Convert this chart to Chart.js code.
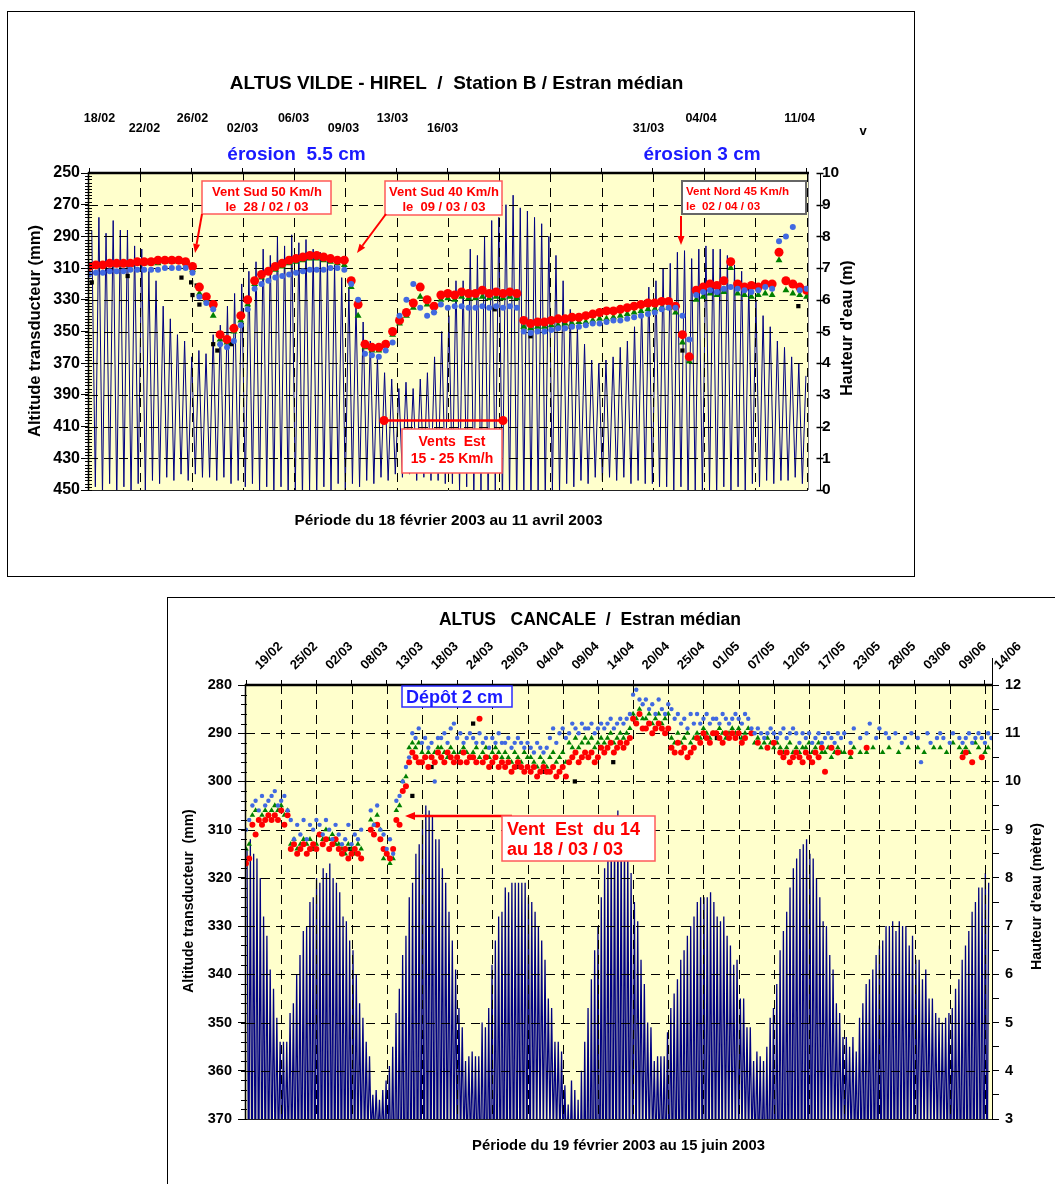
<!DOCTYPE html>
<html>
<head>
<meta charset="utf-8">
<title>ALTUS – Vildé-Hirel et Cancale</title>
<script src="https://cdn.jsdelivr.net/npm/chart.js@4.4.1/dist/chart.umd.min.js"></script>
<style>
  html, body { margin: 0; padding: 0; background: #fff; }
  body { width: 1055px; height: 1184px; position: relative; overflow: hidden; }
  .frame { position: absolute; border: 1px solid #000; box-sizing: border-box; }
  canvas { position: absolute; left: 0; top: 0; }
</style>
</head>
<body>
<div class="frame" style="left:7px;top:11px;width:908px;height:566px"></div>
<div class="frame" style="left:167px;top:597px;width:920px;height:620px"></div>
<canvas id="vilde" width="1055" height="1184"></canvas>
<canvas id="cancale" width="1055" height="1184"></canvas>
<script>
// ---------------------------------------------------------------------------
// Station B, Vildé-Hirel : 18/02/2003 -> 11/04/2003 (x in days from 18/02)
// ---------------------------------------------------------------------------
const vildeDateLabels = ['18/02','22/02','26/02','02/03','06/03','09/03','13/03','16/03','31/03','04/04','11/04'];
const vildeDateDays   = [0.76, 4.02, 7.50, 11.12, 14.82, 18.44, 21.99, 25.62, 40.54, 44.35, 51.49];
const vildeDateRow    = [0, 1, 0, 1, 0, 1, 0, 1, 1, 0, 0];

// successive high waters (m)
const vildeTideHigh = [
  8.2,8.6,8.1,8.5,8.2,8.2,7.7,7.6,6.9,6.6,
  5.8,5.4,4.9,4.7,4.2,4.4,4.3,4.9,5.2,5.8,
  6.2,6.5,6.9,7.2,7.6,7.4,8.0,7.7,8.05,7.8,
  7.9,7.6,7.5,7.3,7.1,6.7,6.4,5.9,5.3,4.7,
  4.2,3.7,3.5,3.2,3.4,3.2,3.5,3.7,4.2,5.0,
  5.5,6.6,6.6,7.6,7.4,8.0,8.5,8.6,9.0,9.3,
  8.9,8.8,8.6,8.4,8.0,7.4,6.6,5.7,5.2,4.6,
  4.1,4.0,4.1,4.2,4.5,4.7,5.15,5.9,6.4,6.6,
  7.0,7.15,7.5,7.55,7.3,7.6,7.7,7.6,7.6,7.4,
  7.1,6.9,6.5,6.0,5.5,5.15,4.7,4.5,4.2,4.0,
  3.6
];
// low waters following each high water (m)
const vildeTideLow = [
  0.1,-0.2,0.2,-0.3,0.1,-0.2,0.2,0.0,0.3,0.2,
  0.4,0.3,0.5,0.3,0.5,0.4,0.4,0.3,0.4,0.2,
  0.3,0.1,0.2,0.0,0.1,-0.1,0.1,-0.2,0.0,-0.3,
  0.0,-0.2,0.1,-0.1,0.2,0.0,0.2,0.1,0.3,0.2,
  0.4,0.3,0.5,0.4,0.5,0.3,0.4,0.3,0.3,0.2,
  0.2,0.0,0.1,-0.2,0.0,-0.3,-0.1,-0.4,-0.2,-0.5,
  -0.2,-0.4,-0.1,-0.3,0.0,-0.1,0.2,0.1,0.3,0.2,
  0.4,0.3,0.4,0.3,0.4,0.2,0.3,0.2,0.2,0.1,
  0.1,0.0,0.1,-0.2,0.0,-0.1,0.0,-0.2,0.1,0.0,
  0.1,0.0,0.2,0.1,0.3,0.2,0.3,0.3,0.4,0.2
];

// transducer altitude (mm), one reading every half day from 18/02
const vildeRed = [
  309,308,308,307,307,307,307,306,306,306,
  305,305,305,305,306,309,322,328,333,352,
  355,348,340,330,318,314,312,309,307,305,
  304,303,302,302,303,304,305,305,318,333,
  358,360,360,358,350,343,338,332,322,330,
  334,327,326,327,325,326,326,324,326,325,
  326,325,326,343,345,344,344,343,342,342,
  341,341,340,339,338,337,337,336,335,334,
  333,332,332,331,331,334,352,366,324,322,
  320,321,318,306,320,322,321,322,320,320,
  300,318,320,322,324
];
const vildeGreen = [
  310,309,309,308,308,308,308,307,307,307,
  307,306,306,306,307,311,326,330,340,355,
  357,350,343,333,320,316,313,311,309,307,
  306,305,304,304,305,306,307,308,322,340,
  360,362,362,359,352,345,340,335,328,333,
  337,330,329,330,328,329,329,328,329,328,
  329,328,329,347,348,347,347,346,346,345,
  345,344,344,343,342,342,341,340,339,338,
  337,336,336,335,335,338,357,369,330,328,
  326,327,325,310,326,327,328,327,326,327,
  305,324,326,327,328
];
const vildeBlue = [
  314,313,313,312,312,312,311,311,311,311,
  311,310,310,310,310,313,328,332,336,358,
  360,356,346,336,323,320,318,316,315,314,
  313,312,311,311,311,310,310,311,320,330,
  364,365,366,362,357,340,330,320,335,340,
  338,333,335,334,334,335,335,334,335,334,
  335,334,335,350,351,350,350,349,348,348,
  347,347,346,345,345,344,343,343,342,341,
  340,339,338,336,335,335,340,355,327,325,
  324,325,323,322,323,324,325,324,322,323,
  293,290,284,324,323
];
const vildeBlackDays = [0.2, 2.8, 3.5, 6.7, 7.4, 7.5, 7.8, 8.0, 9.0, 9.3, 10.3, 29.4, 32.0, 34.9, 43.0, 51.4];
const vildeBlackVals = [319, 315, 311, 316, 319, 327, 321, 333, 358, 362, 358, 336, 353, 347, 362, 334];

// ---------------------------------------------------------------------------
// Cancale : 19/02/2003 -> 15/06/2003 (x in days from 19/02)
// ---------------------------------------------------------------------------
const cancaleDateLabels = ['19/02','25/02','02/03','08/03','13/03','18/03','24/03','29/03','04/04','09/04','14/04',
                           '20/04','25/04','01/05','07/05','12/05','17/05','23/05','28/05','03/06','09/06','14/06'];

const cancaleTideHigh = [
  8.6,8.8,8.5,8.4,
  8.0,7.2,6.8,6.1,5.7,5.1,4.6,4.6,4.6,5.2,
  5.4,6.0,6.4,6.9,7.0,7.5,7.6,8.0,7.9,8.2,
  8.1,8.3,8.0,7.9,7.7,7.2,7.1,6.7,6.5,6.0,
  5.4,5.1,4.6,4.3,3.5,3.6,3.4,3.6,3.8,4.1,4.5,
  5.2,5.7,6.4,6.8,7.6,7.9,8.5,8.7,9.2,9.5,
  9.4,9.3,8.8,8.8,8.2,7.9,7.3,6.7,6.1,5.3,
  4.9,4.2,4.3,4.4,4.3,4.3,5.0,4.9,5.3,6.2,6.7,
  7.2,7.3,7.8,7.7,7.9,7.9,7.9,7.9,7.9,7.6,
  7.5,7.3,7.0,6.7,6.3,5.5,5.3,4.6,4.6,4.4,
  3.7,3.3,3.8,3.6,3.4,4.0,4.6,5.3,5.9,6.5,
  7.0,7.6,8.2,8.6,8.9,9.1,9.4,9.1,8.9,8.6,
  8.1,7.5,7.1,6.3,5.8,5.0,4.9,4.2,4.3,4.3,
  4.3,4.8,5.3,5.6,5.9,6.3,6.5,6.8,7.0,7.2,
  7.5,7.6,7.6,7.6,7.7,7.5,7.2,7.1,7.2,6.8,
  6.6,6.2,6.3,5.5,5.5,4.9,4.9,4.2,4.4,4.3,4.2,
  4.5,5.1,5.3,5.8,6.5,6.9,7.3,7.8,8.2,8.4,
  8.6,8.7,8.8,8.5,8.4,8.0,7.6,7.1,7.0,6.4,
  6.1,5.4,5.2,4.7,4.7,4.5,4.7,4.4,5.1,5.4,
  5.8,5.9,6.1,6.4,6.6,6.7,7.0,7.0,7.1,6.9,
  7.1,7.0,7.0,6.6,6.8,6.3,6.3,5.9,6.1,5.5,
  5.5,5.2,5.1,5.0,5.1,5.2,5.3,5.7,5.9,6.3,6.6,
  6.9,7.3,7.5,7.8,7.8,8.1,7.9
];
const cancaleTideLow = [
  0.8,0.7,0.9,1.0,1.2,1.5,1.7,1.9,2.1,2.2,2.3,
  2.3,2.2,2.0,1.8,1.6,1.4,1.3,1.1,1.0,0.9,0.9,0.8,0.9,0.8,
  0.9,0.9,1.0,1.1,1.3,1.5,1.7,1.9,2.1,2.3,2.4,2.5,2.6,2.6,2.6,
  2.5,2.3,2.0,1.7,1.4,1.1,0.9,0.7,0.5,0.4,0.3,0.3,0.2,0.2,
  0.3,0.4,0.6,0.8,1.1,1.4,1.7,2.0,2.2,2.3,2.4,2.4,2.3,2.3,
  2.2,2.0,1.8,1.5,1.3,1.1,1.0,0.9,0.9,0.8,0.9,
  0.9,1.0,1.0,1.2,1.4,1.6,1.8,2.1,2.3,2.5,2.6,2.7,2.7,2.6,2.6,2.5,2.4,2.2,
  2.0,1.7,1.4,1.1,0.8,0.6,0.4,0.3,0.2,0.2,0.3,0.3,0.4,0.5,
  0.5,0.7,0.9,1.2,1.5,1.8,2.0,2.2,2.3,2.4,2.4,2.4,2.3,
  2.3,2.2,2.0,1.8,1.6,1.5,1.3,1.2,1.1,1.1,1.0,1.0,1.1,
  1.1,1.2,1.3,1.5,1.7,1.9,2.1,2.2,2.4,2.5,2.5,2.6,2.6,2.5,2.5,2.4,
  2.3,2.1,1.9,1.6,1.4,1.2,1.0,0.8,0.7,0.6,0.5,0.5,0.5,0.5,0.6,
  0.6,0.7,0.9,1.1,1.4,1.7,1.9,2.1,2.3,2.4,2.5,2.5,2.5,
  2.5,2.4,2.3,2.1,1.9,1.7,1.6,1.5,1.4,1.3,1.3,1.3,1.2,1.3,
  1.3,1.4,1.5,1.6,1.8,1.9,2.1,2.2,2.3,2.4,2.5,2.5,2.5,2.4,
  2.4,2.3,2.1,1.9,1.7,1.5,1.3,1.1,1.0,0.9,0.8,0.8,0.7,0.7,0.8
];

// transducer altitude (mm), one reading every half day from 19/02
const cancaleBlue = [
  310,308, 305,304,306,303, 305,304,303, 302,305,304,303,306,
  308,312,309,311,308,312,309,310,308, 309,311,308,310,312,309,
  311,313,312,309,313,311,312,310, null,null, 306,309,305,310, 311,314,312,315,
  304,303, 300,297,295, 290,291,289, 292,291,293,292,300,291,
  291,290,292,289,288,291,290,292,291,290, 291,292,290,292,291,293,291,292,290,292,
  292,291,293,292,291,292,293,292, 293,294,292,293,294,293, 291,289,292,290,289,291,
  290,288,289,290,288,289, 289,288,290,289,288,289, 288,287,289,288,287,288, 287,286,
  282,281,283,284, 283,285,284,286,283,285,286,284, 285,287,286,288,287,289,286,288,
  286,288,287,286,288,287, 287,288,286,287,288,287, 286,287,288,286,287,289,
  290,289,290,291,290,289,290,291, 290,289,291,290,289,290,292,290,
  291,290,292,291,290,292, 291,290,291,292,290,291, 290,null,292,289,null,291,
  null,290,288,null,291,289,null,290, 291,null,290,null,292,291,null,290,
  null,291,296,null,290,292,null,291, 290,291,null,292,290,null,291,292,
  291,290,292,291,290,291,292,290,291
];
const cancaleRed = [
  317,316, 309,311,308,309, 308,307,308, 307,308,306,309,307,
  314,313,315,314,313,315,314,313,314, 311,313,312,314,313,312,
  314,315,314,316,315,314,315,316, null,null, 310,311,309,312, 314,315,316,314,
  308,309, 302,301,296, 294,295,296, 296,295,297,295,296,294,
  295,296,294,295,296,295,296,294,296,295, 295,296,287,296,295,297,296,295,297,296,
  297,296,298,297,296,297,298,297, 298,297,299,298,297,298, 298,297,299,298,297,299,
  296,295,294,296,295,294, 295,294,296,295,293,294, 293,292,294,293,292,293, 292,291,
  287,288,286,289, 289,288,290,289,288,289,290,289, 293,294,292,294,293,295,294,293,
  291,292,290,291,292,290, 290,291,292,290,291,290, 291,290,292,291,null,290,
  null,292,null,null,293,null,292,null, 294,295,294,296,295,294,295,296,
  294,295,296,294,295,293, 298,null,293,null,294,null, null,null,294,null,null,null,
  null,293,null,null,null,null,null,null, null,null,null,null,null,null,null,null,
  null,null,null,null,null,null,null,null, null,null,null,null,null,null,null,295,
  294,null,296,null,null,295,null,null,null
];
const cancaleGreen = [
  314,313, 307,306,308,307, 306,307,306, 305,306,305,307,306,
  313,312,314,313,312,313,312,314,313, 311,312,310,312,311,313,
  313,314,315,313,314,315,313,314, null,null, 308,309,307,310, 316,315,317,316,
  306,305, 300,299,293, 292,293,292, 294,295,294,295,294,293,
  293,294,295,293,294,295,294,293,294,295, 294,293,295,294,293,295,294,293,294,295,
  294,295,296,294,295,296,294,295, 295,296,297,295,296,297, 295,294,296,295,294,296,
  292,293,291,293,292,291, 292,291,293,292,291,292, 291,290,292,291,290,291, 290,289,
  286,287,285,287, 287,286,288,287,286,288,287,286, 291,292,290,292,291,290,292,291,
  290,291,289,290,291,290, 290,289,290,291,290,289, 290,289,291,290,289,290,
  292,291,293,292,291,292,293,292, 293,294,293,292,294,293,294,293,
  293,292,294,293,292,294, 294,293,295,294,293,294, 294,null,295,293,null,294,
  null,294,null,293,null,null,294,null, 293,null,null,294,null,null,293,null,
  null,293,null,294,null,null,293,null, 293,null,294,null,292,null,293,294,
  293,294,null,292,293,null,294,293,null
];
const cancaleBlackDays = [10.3, 16.3, 26.0, 29.0, 35.5, 42.3, 46.7, 51.4, 57.4, 73.6];
const cancaleBlackVals = [314, 314, 303, 297, 288, 297, 298, 300, 296, 291];

// ---------------------------------------------------------------------------
// helpers
// ---------------------------------------------------------------------------
const FONT = '"Liberation Sans", Arial, Helvetica, sans-serif';
const TIDE_PERIOD = 0.5175;     // days between two high waters
const SAMPLE_STEP = 0.5;        // days between two altitude readings

Chart.defaults.font.family = FONT;
Chart.defaults.font.weight = 'bold';
Chart.defaults.color = '#000';

function tidePoints(firstHigh, highs, lows) {
  const pts = [];
  highs.forEach((h, i) => {
    const t = firstHigh + i * TIDE_PERIOD;
    pts.push({ x: t, y: h });
    if (i < lows.length) pts.push({ x: t + TIDE_PERIOD / 2, y: lows[i] });
  });
  return pts;
}
function sampled(values) {
  const pts = [];
  values.forEach((v, i) => { if (v !== null) pts.push({ x: i * SAMPLE_STEP, y: v }); });
  return pts;
}
function paired(days, vals) { return days.map((d, i) => ({ x: d, y: vals[i] })); }

function line(ctx, x1, y1, x2, y2, color, w, dash) {
  ctx.save();
  ctx.strokeStyle = color; ctx.lineWidth = w;
  ctx.setLineDash(dash || []);
  ctx.beginPath(); ctx.moveTo(x1, y1); ctx.lineTo(x2, y2); ctx.stroke();
  ctx.restore();
}
function text(ctx, str, x, y, o) {
  o = o || {};
  ctx.save();
  ctx.font = 'bold ' + (o.size || 12) + 'px ' + FONT;
  ctx.fillStyle = o.color || '#000';
  ctx.textAlign = o.align || 'center';
  ctx.textBaseline = o.baseline || 'alphabetic';
  ctx.translate(x, y);
  if (o.rot) ctx.rotate(o.rot);
  ctx.fillText(str, 0, 0);
  ctx.restore();
}
function box(ctx, x, y, w, h, stroke, lw) {
  ctx.save();
  ctx.fillStyle = '#fff'; ctx.fillRect(x, y, w, h);
  ctx.strokeStyle = stroke; ctx.lineWidth = lw; ctx.strokeRect(x, y, w, h);
  ctx.restore();
}
function arrow(ctx, x1, y1, x2, y2, color, lw, hl, hw) {
  const a = Math.atan2(y2 - y1, x2 - x1);
  const bx = x2 - hl * Math.cos(a), by = y2 - hl * Math.sin(a);
  ctx.save();
  ctx.strokeStyle = color; ctx.fillStyle = color; ctx.lineWidth = lw;
  ctx.beginPath(); ctx.moveTo(x1, y1); ctx.lineTo(bx, by); ctx.stroke();
  ctx.beginPath(); ctx.moveTo(x2, y2);
  ctx.lineTo(bx + hw / 2 * Math.sin(a), by - hw / 2 * Math.cos(a));
  ctx.lineTo(bx - hw / 2 * Math.sin(a), by + hw / 2 * Math.cos(a));
  ctx.closePath(); ctx.fill();
  ctx.restore();
}
function paintArea(chart, color) {
  const { ctx, chartArea: a } = chart;
  ctx.save(); ctx.fillStyle = color;
  ctx.fillRect(a.left, a.top, a.right - a.left, a.bottom - a.top);
  ctx.restore();
}
function dashedGrid(chart, xs, ys) {
  const { ctx, chartArea: a, scales } = chart;
  xs.forEach(v => {
    const x = Math.round(scales.x.getPixelForValue(v)) + 0.5;
    line(ctx, x, a.top, x, a.bottom, '#000', 1, [9, 6]);
  });
  ys.forEach(v => {
    const y = Math.round(scales.y.getPixelForValue(v)) + 0.5;
    line(ctx, a.left, y, a.right, y, '#000', 1, [9, 6]);
  });
}
function minorTicks(chart, from, to, step, x1, x2) {
  const { ctx, scales } = chart;
  for (let v = from; v <= to; v += step) {
    const y = Math.round(scales.y.getPixelForValue(v)) + 0.5;
    line(ctx, x1, y, x2, y, '#000', 1);
  }
}

const RED = '#ff0000', GREEN = '#008000', BLUE = '#4169e1', NAVY = '#000080';
const PLOT_BG = '#ffffcc';

function seriesSets(red, green, blue, black, tide, sizes) {
  return [
    { data: blue,  pointStyle: 'circle',   pointRadius: sizes.blue,  backgroundColor: BLUE,  borderWidth: 0, yAxisID: 'y', order: 1 },
    { data: red,   pointStyle: 'circle',   pointRadius: sizes.red,   backgroundColor: RED,   borderWidth: 0, yAxisID: 'y', order: 2 },
    { data: green, pointStyle: 'triangle', pointRadius: sizes.green, backgroundColor: GREEN, borderWidth: 0, yAxisID: 'y', order: 3 },
    { data: black, pointStyle: 'rect',     pointRadius: sizes.black, backgroundColor: '#000', borderWidth: 0, yAxisID: 'y', order: 4 },
    { data: tide, showLine: true, pointRadius: 0, borderColor: NAVY, borderWidth: sizes.tide, tension: 0, yAxisID: 'yR', order: 5 }
  ];
}

// ---------------------------------------------------------------------------
// Chart 1 : ALTUS VILDE - HIREL
// ---------------------------------------------------------------------------
const vildeGridStep = 52 / 14;
const vildeGridX = Array.from({ length: 15 }, (_, i) => i * vildeGridStep);

const vildeDecor = {
  id: 'vildeDecor',
  beforeDraw(chart) { paintArea(chart, PLOT_BG); },
  afterDatasetDraw(chart, args) {
    if (args.index === 4) dashedGrid(chart, vildeGridX.slice(1), [270, 290, 310, 330, 350, 370, 390, 410, 430]);
  },
  afterDraw(chart) {
    const { ctx, chartArea: a, scales } = chart;
    // plot frame
    line(ctx, a.left, a.bottom + 0.5, a.right, a.bottom + 0.5, '#222', 1);
    line(ctx, a.right + 0.5, a.top, a.right + 0.5, a.bottom, '#888', 1);
    line(ctx, a.left - 0.5, a.top - 1, a.left - 0.5, a.bottom + 1, '#000', 1.5);
    line(ctx, a.left - 1, a.top, a.right + 1, a.top, '#000', 2.5);
    minorTicks(chart, 250, 450, 2, a.left - 4, a.left + 3);
    // water-height axis, set slightly apart from the plot
    const ax = a.right + 12.5;
    line(ctx, ax, a.top, ax, a.bottom, '#000', 1);
    for (let v = 0; v <= 10; v++) {
      const y = Math.round(scales.yR.getPixelForValue(v)) + 0.5;
      line(ctx, ax - 4, y, ax + 3, y, '#000', 1.5);
    }
    // dates along the top
    vildeDateLabels.forEach((s, i) => {
      text(ctx, s, scales.x.getPixelForValue(vildeDateDays[i]), vildeDateRow[i] ? 132 : 121.5, { size: 12.5 });
    });
    text(ctx, 'ALTUS VILDE - HIREL  /  Station B / Estran médian', 456.5, 89, { size: 19 });
    text(ctx, 'érosion  5.5 cm', 296.5, 160, { size: 19, color: '#1a1aff' });
    text(ctx, 'érosion 3 cm', 702, 160, { size: 19, color: '#1a1aff' });
    text(ctx, 'v', 863, 135, { size: 13 });
    text(ctx, 'Altitude transducteur (mm)', 35, 331, { size: 16.5, rot: -Math.PI / 2, baseline: 'middle' });
    text(ctx, "Hauteur d'eau (m)", 848, 328, { size: 16, rot: -Math.PI / 2, baseline: 'middle' });
    text(ctx, 'Période du 18 février 2003 au 11 avril 2003', 448.5, 525, { size: 15.4 });

    // wind events
    box(ctx, 202, 181, 129, 33, '#ff5a5a', 1.5);
    text(ctx, 'Vent Sud 50 Km/h', 267, 195.5, { size: 13, color: RED });
    text(ctx, 'le  28 / 02 / 03', 267, 211, { size: 13, color: RED });
    arrow(ctx, 202, 214, 195, 253, RED, 2, 9, 7);

    box(ctx, 385, 181, 117, 34, '#ff5a5a', 1.5);
    text(ctx, 'Vent Sud 40 Km/h', 444, 195.5, { size: 13, color: RED });
    text(ctx, 'le  09 / 03 / 03', 444, 211, { size: 13, color: RED });
    arrow(ctx, 386, 214, 357, 253, RED, 2, 9, 7);

    box(ctx, 682, 181, 124, 33, '#666', 2);
    text(ctx, 'Vent Nord 45 Km/h', 686, 195, { size: 11.6, color: RED, align: 'left' });
    text(ctx, 'le  02 / 04 / 03', 686, 210, { size: 11.6, color: RED, align: 'left' });
    arrow(ctx, 681, 216, 681, 245, RED, 2, 9, 7);

    line(ctx, 384, 420.5, 503, 420.5, RED, 2.5);
    ctx.save(); ctx.fillStyle = RED;
    ctx.beginPath(); ctx.arc(384, 420.5, 4.5, 0, Math.PI * 2); ctx.fill();
    ctx.beginPath(); ctx.arc(503, 420.5, 4.5, 0, Math.PI * 2); ctx.fill();
    ctx.restore();
    box(ctx, 402, 429, 100, 44, '#ff5a5a', 1.5);
    text(ctx, 'Vents  Est', 452, 446, { size: 14, color: RED });
    text(ctx, '15 - 25 Km/h', 452, 463, { size: 14, color: RED });
  }
};

new Chart(document.getElementById('vilde'), {
  type: 'scatter',
  data: {
    datasets: seriesSets(
      sampled(vildeRed), sampled(vildeGreen), sampled(vildeBlue),
      paired(vildeBlackDays, vildeBlackVals),
      tidePoints(0.2, vildeTideHigh, vildeTideLow),
      { red: 4.5, green: 4, blue: 3, black: 3, tide: 1 })
  },
  options: {
    responsive: false, animation: false, devicePixelRatio: 1,
    layout: { padding: { left: 0, right: 207, top: 163, bottom: 694 } },
    plugins: { legend: { display: false }, tooltip: { enabled: false } },
    scales: {
      x: {
        type: 'linear', position: 'top', min: 0, max: 52.1,
        afterBuildTicks: s => { s.ticks = vildeGridX.map(v => ({ value: v })); },
        afterFit: s => { s.height = 10; },
        ticks: { display: false },
        grid: { drawOnChartArea: false, drawTicks: true, tickLength: 5, color: '#000' },
        border: { display: false }
      },
      y: {
        position: 'left', reverse: true, min: 250, max: 450,
        afterFit: s => { s.width = 89; },
        ticks: { stepSize: 20, padding: 1, font: { size: 16, weight: 'bold' }, color: '#000' },
        grid: { drawOnChartArea: false, tickLength: 8, color: '#000' },
        border: { display: false }
      },
      yR: {
        position: 'right', min: 0, max: 10,
        afterFit: s => { s.width = 40; },
        ticks: { stepSize: 1, padding: 14, font: { size: 15.5, weight: 'bold' }, color: '#000' },
        grid: { drawOnChartArea: false, drawTicks: false },
        border: { display: false }
      }
    }
  },
  plugins: [vildeDecor]
});

// ---------------------------------------------------------------------------
// Chart 2 : ALTUS CANCALE
// ---------------------------------------------------------------------------
const cancaleGridStep = 5.5;
const cancaleGridX = Array.from({ length: 22 }, (_, i) => i * cancaleGridStep);

const cancaleDecor = {
  id: 'cancaleDecor',
  beforeDraw(chart) { paintArea(chart, PLOT_BG); },
  afterDatasetDraw(chart, args) {
    if (args.index === 4) dashedGrid(chart, cancaleGridX.slice(1), [290, 300, 310, 320, 330, 340, 350, 360]);
  },
  afterDraw(chart) {
    const { ctx, chartArea: a, scales } = chart;
    line(ctx, a.left, a.bottom + 0.5, a.right, a.bottom + 0.5, '#222', 1);
    line(ctx, a.right + 0.5, 658, a.right + 0.5, a.bottom, '#000', 1);
    line(ctx, a.left - 0.5, a.top - 1, a.left - 0.5, a.bottom + 1, '#000', 1.5);
    line(ctx, a.left - 1, a.top, a.right + 1, a.top, '#000', 2.5);
    minorTicks(chart, 280, 370, 2, a.left - 5, a.left + 1);

    cancaleDateLabels.forEach((s, i) => {
      const x = scales.x.getPixelForValue(cancaleGridX[i]) + 14;
      text(ctx, s, x, 670, { size: 13, align: 'left', rot: -Math.PI / 4 });
    });
    text(ctx, 'ALTUS   CANCALE  /  Estran médian', 590, 625, { size: 17.5 });
    text(ctx, 'Altitude transducteur  (mm)', 189, 901, { size: 14, rot: -Math.PI / 2, baseline: 'middle' });
    text(ctx, "Hauteur d'eau (mètre)", 1037.5, 896.5, { size: 14.3, rot: -Math.PI / 2, baseline: 'middle' });
    text(ctx, 'Période du 19 février 2003 au 15 juin 2003', 618.5, 1150, { size: 14.8 });

    box(ctx, 402, 686, 110, 21, '#2a2aff', 1.5);
    text(ctx, 'Dépôt 2 cm', 406, 703, { size: 18, color: '#1a1aff', align: 'left' });

    arrow(ctx, 512, 816, 405, 816, RED, 2.5, 10, 8);
    box(ctx, 502, 816, 153, 45, '#ff5a5a', 1.5);
    text(ctx, 'Vent  Est  du 14', 507, 835, { size: 18, color: RED, align: 'left' });
    text(ctx, 'au 18 / 03 / 03', 507, 855, { size: 18, color: RED, align: 'left' });
  }
};

new Chart(document.getElementById('cancale'), {
  type: 'scatter',
  data: {
    datasets: seriesSets(
      sampled(cancaleRed), sampled(cancaleGreen), sampled(cancaleBlue),
      paired(cancaleBlackDays, cancaleBlackVals),
      tidePoints(0.16, cancaleTideHigh, cancaleTideLow),
      { red: 3, green: 3.2, blue: 2.2, black: 3, tide: 1.3 })
  },
  options: {
    responsive: false, animation: false, devicePixelRatio: 1,
    layout: { padding: { left: 0, right: 13, top: 675, bottom: 65 } },
    plugins: { legend: { display: false }, tooltip: { enabled: false } },
    scales: {
      x: {
        type: 'linear', position: 'top', min: 0, max: 116.6,
        afterBuildTicks: s => { s.ticks = cancaleGridX.map(v => ({ value: v })); },
        afterFit: s => { s.height = 10; },
        ticks: { display: false },
        grid: { drawOnChartArea: false, drawTicks: true, tickLength: 5, color: '#000' },
        border: { display: false }
      },
      y: {
        position: 'left', reverse: true, min: 280, max: 370,
        afterFit: s => { s.width = 246; },
        ticks: { stepSize: 10, padding: 6, font: { size: 14.5, weight: 'bold' }, color: '#000' },
        grid: { drawOnChartArea: false, tickLength: 8, color: '#000' },
        border: { display: false }
      },
      yR: {
        position: 'right', min: 3, max: 12,
        afterFit: s => { s.width = 50; },
        ticks: {
          stepSize: 0.5, padding: 6, autoSkip: false,
          font: { size: 14.5, weight: 'bold' }, color: '#000',
          callback: v => (Number.isInteger(v) ? v : '')
        },
        grid: { drawOnChartArea: false, drawTicks: true, tickLength: 7, color: '#000' },
        border: { display: false }
      }
    }
  },
  plugins: [cancaleDecor]
});
</script>
</body>
</html>
